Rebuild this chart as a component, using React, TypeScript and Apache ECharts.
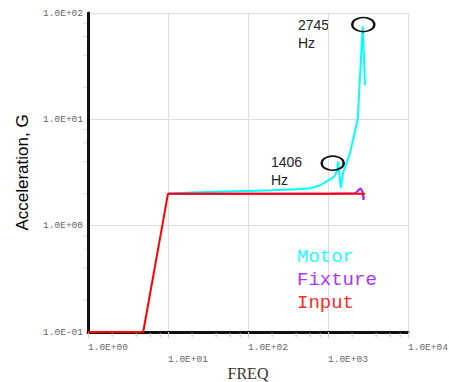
import React, { useEffect, useRef } from "react";
import * as echarts from "echarts";

// ---- data ----
const motorFreq = [10, 20, 50, 100, 200, 400, 600, 800, 1000, 1200, 1300, 1340, 1445, 1540, 1880, 2350, 2716, 2900];
const motorAcc = [2.0, 2.05, 2.09, 2.12, 2.15, 2.2, 2.25, 2.4, 2.65, 2.9, 3.3, 4.0, 2.25, 3.1, 4.8, 10, 75, 21];

const fixtureFreq = [10, 100, 1000, 2200, 2550, 2700, 2780, 2800];
const fixtureAcc = [2.0, 2.0, 2.0, 2.02, 2.25, 2.1, 1.75, 1.9];

const inputFreq = [1, 4.9, 10, 2900];
const inputAcc = [0.1, 0.1, 2.0, 2.0];

const seriesNames = ["Motor", "Fixture", "Input"];
const seriesColors = ["#00ffff", "#a020ff", "#ff0000"];
const legendColors = ["#22ffff", "#aa33ff", "#ff2a2a"];

const peakFreqs = [2762, 1145];
const peakAccs = [77.8, 3.87];
const peakLabels = ["2745\nHz", "1406\nHz"];

const xMinorTicks = [2, 4, 6, 8, 20, 40, 60, 80, 200, 400, 600, 800, 2000, 4000, 6000, 8000];
const yMinorTicks = [0.2, 0.4, 0.6, 0.8, 2, 4, 6, 8, 20, 40, 60, 80];

const zip = (a: number[], b: number[]) => a.map((v, i) => [v, b[i]]);

const fmtExp = (v: number) => {
  const e = Math.round(Math.log10(v));
  const sign = e < 0 ? "-" : "+";
  const a = Math.abs(e);
  return "1.0E" + sign + (a < 10 ? "0" + a : String(a));
};

export default function App() {
  const ref = useRef<HTMLDivElement>(null);
  useEffect(() => {
    if (!ref.current) return;
    const chart = echarts.init(ref.current, undefined, { renderer: "svg" });
    const mono = "Liberation Mono";
    chart.setOption({
      animation: false,
      backgroundColor: "#ffffff",
      grid: { left: 88, right: 41, top: 13, bottom: 50, containLabel: false, outerBoundsMode: "none" },
      legend: {
        orient: "vertical",
        left: 287,
        top: 242,
        itemWidth: 0,
        itemHeight: 0,
        itemGap: 4,
        selectedMode: false,
        data: seriesNames.map((n, i) => ({
          name: n,
          icon: "none",
          textStyle: { color: legendColors[i], fontFamily: mono, fontSize: 19, lineHeight: 19 },
        })),
      },
      xAxis: {
        type: "log",
        logBase: 10,
        min: 1,
        max: 10000,
        name: "FREQ",
        nameLocation: "middle",
        nameGap: 33,
        nameMoveOverlap: false,
        nameTextStyle: { fontFamily: "Liberation Serif", fontSize: 16, color: "#333" },
        axisLine: { show: true, onZero: false, lineStyle: { color: "#111", width: 3 } },
        axisTick: { show: true, length: 6, lineStyle: { color: "#ccc", width: 1 } },
        axisLabel: {
          align: "left",
          margin: 9,
          fontFamily: mono,
          fontSize: 9.5,
          lineHeight: 12,
          color: "#666",
          formatter: (v: number) => {
            const e = Math.round(Math.log10(v));
            return (e % 2 !== 0 ? "\n" : "") + fmtExp(v);
          },
        },
        splitLine: { show: true, lineStyle: { color: "#dddddd", width: 1 } },
      },
      yAxis: {
        type: "log",
        logBase: 10,
        min: 0.1,
        max: 100,
        name: "Acceleration, G",
        nameLocation: "middle",
        nameRotate: 90,
        nameGap: 57,
        nameMoveOverlap: false,
        nameTextStyle: { fontFamily: "Liberation Sans", fontSize: 17, color: "#000" },
        axisLine: { show: true, onZero: false, lineStyle: { color: "#111", width: 3 } },
        axisTick: { show: false },
        axisLabel: { margin: 5, fontFamily: mono, fontSize: 9.5, color: "#666", formatter: fmtExp },
        splitLine: { show: true, lineStyle: { color: "#dddddd", width: 1 } },
      },
      graphic: [
        {
          type: "text",
          left: 298,
          top: 16,
          style: { text: peakLabels[0], font: "14px Liberation Sans", fill: "#222", lineHeight: 18 },
        },
        {
          type: "text",
          left: 271,
          top: 153,
          style: { text: peakLabels[1], font: "14px Liberation Sans", fill: "#222", lineHeight: 18 },
        },
      ],
      series: [
        {
          name: "xMinor",
          type: "custom",
          silent: true,
          clip: false,
          z: 1,
          data: xMinorTicks.map((v) => [v, 0.1]),
          encode: { x: 0, y: 1 },
          renderItem: (params: any, api: any) => {
            const p = api.coord([api.value(0), api.value(1)]);
            return {
              type: "line",
              shape: { x1: p[0], y1: p[1] + 1, x2: p[0], y2: p[1] + 5 },
              style: { stroke: "#bbbbbb", lineWidth: 1 },
            };
          },
        },
        {
          name: "yMinor",
          type: "custom",
          silent: true,
          clip: false,
          z: 1,
          data: yMinorTicks.map((v) => [1, v]),
          encode: { x: 0, y: 1 },
          renderItem: (params: any, api: any) => {
            const p = api.coord([api.value(0), api.value(1)]);
            return {
              type: "line",
              shape: { x1: p[0] - 1, y1: p[1], x2: p[0] - 5, y2: p[1] },
              style: { stroke: "#dddddd", lineWidth: 1 },
            };
          },
        },
        {
          name: seriesNames[0],
          type: "line",
          showSymbol: false,
          color: seriesColors[0],
          lineStyle: { width: 2, color: seriesColors[0] },
          data: zip(motorFreq, motorAcc),
          z: 3,
          markPoint: {
            symbol: "circle",
            symbolSize: [22, 14],
            label: { show: false },
            itemStyle: { color: "rgba(0,0,0,0)", borderColor: "#111", borderWidth: 2 },
            data: peakFreqs.map((f, i) => ({ coord: [f, peakAccs[i]] })),
          },
        },
        {
          name: seriesNames[1],
          type: "line",
          showSymbol: false,
          color: seriesColors[1],
          lineStyle: { width: 2, color: seriesColors[1] },
          data: zip(fixtureFreq, fixtureAcc),
          z: 4,
        },
        {
          name: seriesNames[2],
          type: "line",
          showSymbol: false,
          color: seriesColors[2],
          lineStyle: { width: 2, color: seriesColors[2] },
          data: zip(inputFreq, inputAcc),
          z: 5,
        },
      ],
    });
    return () => chart.dispose();
  }, []);
  return (
    <div
      ref={ref}
      style={{ position: "fixed", left: 0, top: 0, width: 449, height: 382, background: "#fff" }}
    />
  );
}
